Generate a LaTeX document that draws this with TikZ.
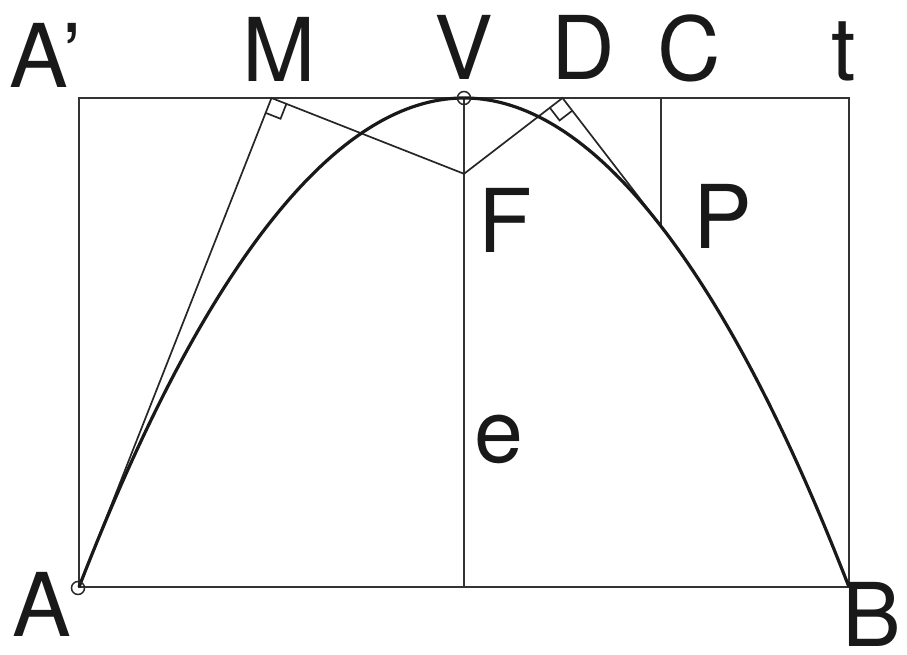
\documentclass[tikz,border=0pt]{standalone}
\usepackage{fontspec}
\setmainfont{TeX Gyre Heros}
\usetikzlibrary{calc}

\begin{document}
\begin{tikzpicture}[
    x=1pt, y=-1pt,
    lbl/.style   = {font=\fontsize{88}{100}\selectfont, inner sep=0pt, anchor=base west, text=black!90},
    frame/.style = {line width=2.2pt, draw=black!80},
    aux/.style   = {line width=1.7pt, draw=black!85},
    curve/.style = {line width=3.2pt, draw=black!90},
    dot/.style   = {circle, draw=black!85, line width=1.5pt, minimum size=13pt, inner sep=0pt}
]
\useasboundingbox (0,0) rectangle (907,655);
% points of the figure
\coordinate (A)  at (79,587);
\coordinate (B)  at (849,587);
\coordinate (Ap) at (79,98);
\coordinate (T)  at (849,98);
\coordinate (V)  at (464,98);
\coordinate (F)  at (464,173.8);
\coordinate (M)  at (271.5,98);
\coordinate (D)  at (562.5,98);
\coordinate (C)  at (661,98);
\coordinate (P)  at (661,226);
\coordinate (E)  at (464,587);
% frame and axis
\draw[frame] (A) -- (B) -- (T) -- (Ap) -- cycle;
\draw[frame] (V) -- (E);
\draw[frame] (C) -- (P);
% tangents and focal lines
\draw[aux] (A) -- (M) -- (F) -- (D) -- ($(D)!1.08!(P)$);
% right angle marks
\coordinate (ma) at ($(M)!16pt!(A)$);
\coordinate (mf) at ($(M)!16pt!(F)$);
\draw[aux] (ma) -- ($(ma)+(mf)-(M)$) -- (mf);
\coordinate (dp) at ($(D)!16pt!(P)$);
\coordinate (df) at ($(D)!16pt!(F)$);
\draw[aux] (dp) -- ($(dp)+(df)-(D)$) -- (df);
% parabola
\draw[curve] (A) parabola bend (V) (B);
\node[dot] (dotA) at (78,588) {};
\node[dot] (dotV) at (V) {};
% labels
\node[lbl] (lblAp) at (9,88)   {A’};
\node[lbl] (lblM)  at (242,82) {M};
\node[lbl, anchor=base] (lblV) at (464,80) {V};
\node[lbl] (lblD)  at (551,80) {D};
\node[lbl] (lblC)  at (657,81) {C};
\node[lbl] (lblT)  at (831,81) {t};
\node[lbl] (lblF)  at (478,252) {F};
\node[lbl] (lblP)  at (693,248) {P};
\node[lbl] (lblE)  at (474,462) {e};
\node[lbl] (lblA)  at (12,636) {A};
\node[lbl] (lblB)  at (842,646) {B};
\end{tikzpicture}
\end{document}
